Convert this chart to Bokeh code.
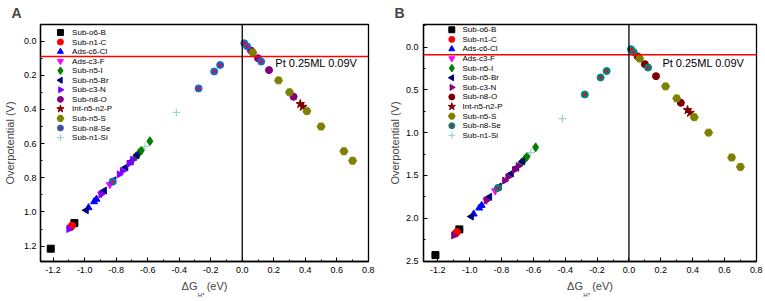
import math
from bokeh.plotting import figure
from bokeh.models import (Range1d, Span, Label, LinearAxis, FixedTicker,
                          SingleIntervalTicker, PrintfTickFormatter)
from bokeh.core.properties import value
from bokeh.layouts import row
from bokeh.embed import file_html
from bokeh.resources import INLINE

FONT = "Liberation Sans"
NB = "\u00a0"

# ---------------- data ----------------
series = ["Sub-o6-B", "Sub-n1-C", "Ads-c6-Cl", "Ads-c3-F", "Sub-n5-I", "Sub-n5-Br",
          "Sub-c3-N", "Sub-n8-O", "Int-n5-n2-P", "Sub-n5-S", "Sub-n8-Se", "Sub-n1-Si"]

dg_o6B = [-1.215, -1.065]
dg_n1C = [-1.09, -1.08]
dg_c6Cl = [-0.975, -0.94, -0.925]
dg_c3F = [-0.895, -0.84]
dg_n5I = [-0.675, -0.655, -0.64, -0.586]
dg_n5Br = [-0.99, -0.875, -0.815, -0.739, -0.705, -0.668]
dg_c3N = [-1.10, -0.896, -0.78, -0.76, -0.718, -0.695]
dg_n8O = [0.055, 0.10, 0.17, 0.326]
dg_P = [0.368, 0.384]
dg_n5S = [0.067, 0.23, 0.30, 0.41, 0.50, 0.645, 0.70]
dg_n8Se = [-0.823, -0.277, -0.178, -0.14, 0.013, 0.03, 0.12]
dg_n1Si = [-0.617, -0.418]

# panel A overpotentials (V)
etaA_o6B = [1.215, 1.065]
etaA_n1C = [1.09, 1.08]
etaA_c6Cl = [0.975, 0.94, 0.925]
etaA_c3F = [0.895, 0.84]
etaA_n5I = [0.675, 0.655, 0.64, 0.586]
etaA_n5Br = [0.99, 0.875, 0.815, 0.739, 0.705, 0.668]
etaA_c3N = [1.10, 0.896, 0.78, 0.76, 0.718, 0.695]
etaA_n8O = [0.055, 0.10, 0.17, 0.326]
etaA_P = [0.368, 0.384]
etaA_n5S = [0.067, 0.23, 0.30, 0.41, 0.50, 0.645, 0.70]
etaA_n8Se = [0.823, 0.277, 0.178, 0.14, 0.013, 0.03, 0.12]
etaA_n1Si = [0.617, 0.418]

# panel B overpotentials (V)
etaB_o6B = [2.43, 2.13]
etaB_n1C = [2.18, 2.16]
etaB_c6Cl = [1.95, 1.88, 1.85]
etaB_c3F = [1.79, 1.68]
etaB_n5I = [1.35, 1.31, 1.28, 1.172]
etaB_n5Br = [1.98, 1.75, 1.63, 1.478, 1.41, 1.336]
etaB_c3N = [2.20, 1.792, 1.56, 1.52, 1.436, 1.39]
etaB_n8O = [0.11, 0.20, 0.34, 0.652]
etaB_P = [0.736, 0.768]
etaB_n5S = [0.134, 0.46, 0.60, 0.82, 1.00, 1.29, 1.40]
etaB_n8Se = [1.646, 0.554, 0.356, 0.28, 0.026, 0.06, 0.24]
etaB_n1Si = [1.234, 0.836]

dg_all = [dg_o6B, dg_n1C, dg_c6Cl, dg_c3F, dg_n5I, dg_n5Br, dg_c3N, dg_n8O, dg_P, dg_n5S, dg_n8Se, dg_n1Si]
etaA_all = [etaA_o6B, etaA_n1C, etaA_c6Cl, etaA_c3F, etaA_n5I, etaA_n5Br, etaA_c3N, etaA_n8O, etaA_P, etaA_n5S, etaA_n8Se, etaA_n1Si]
etaB_all = [etaB_o6B, etaB_n1C, etaB_c6Cl, etaB_c3F, etaB_n5I, etaB_n5Br, etaB_c3N, etaB_n8O, etaB_P, etaB_n5S, etaB_n8Se, etaB_n1Si]

pt_level = 0.09
pt_text = "Pt 0.25ML 0.09V"

# ---------------- styles ----------------
markers = ["square", "circle", "triangle", "inverted_triangle", "diamond", "triangle",
           "triangle", "circle", "star", "hex", "circle", "cross"]
angles = [0, 0, 0, 0, 0, math.pi / 2, -math.pi / 2, 0, 0, 0, 0, 0]
sizes = [7, 7, 7, 7, 9, 7, 7, 7, 9, 8, 7, 8]
colors_A = ["#000000", "#FF0000", "#0000FF", "#FF00FF", "#008000", "#000080",
            "#8000FF", "#800080", "#800000", "#808000", "#1E64C8", "#9FD3D3"]
colors_B = ["#000000", "#FF0000", "#0000FF", "#FF00FF", "#008000", "#000080",
            "#800080", "#800000", "#800000", "#808000", "#008080", "#9FD3D3"]


def draw_marker(p, xs, ys, i, c, size_scale=1.0):
    s = sizes[i] * size_scale
    if markers[i] == "cross":
        p.scatter(x=xs, y=ys, marker="cross", size=s, line_color=c, line_width=1.2)
    elif series[i] == "Sub-n8-Se":
        p.scatter(x=xs, y=ys, marker="circle", size=s, fill_color=c, line_color=c)
        p.scatter(x=xs, y=ys, marker="circle", size=3 * size_scale, fill_color="#FF0000",
                  line_color="#FF0000", line_width=0)
    else:
        p.scatter(x=xs, y=ys, marker=markers[i], size=s, angle=angles[i],
                  fill_color=c, line_color=c)


def make_panel(letter, etas, colors, yr, ystep, xr, width, bl, br, bb,
               tick_standoff, label_standoff, leg, pt_dy):
    height = 301
    bt = 24
    frame_h = height - bt - bb
    frame_w = width - bl - br
    p = figure(width=width, height=height, output_backend="svg", toolbar_location=None,
               x_range=Range1d(*xr), y_range=Range1d(*yr),
               min_border_left=bl, min_border_right=br, min_border_top=bt, min_border_bottom=bb)
    p.grid.visible = False
    p.outline_line_color = "black"
    p.outline_line_width = 1.3
    p.outline_line_alpha = 1
    for ax, step in ((p.xaxis[0], 0.2), (p.yaxis[0], ystep)):
        ax.ticker = SingleIntervalTicker(interval=step, num_minor_ticks=2)
        ax.formatter = PrintfTickFormatter(format="%.1f")
        ax.major_tick_in = 4
        ax.major_tick_out = 0
        ax.minor_tick_in = 2
        ax.minor_tick_out = 0
        ax.axis_line_width = 1.3
        ax.major_label_text_font = FONT
        ax.major_label_text_font_size = "9px"
        ax.major_label_text_color = "black"
    p.xaxis.major_label_standoff = 5
    p.yaxis.major_label_standoff = tick_standoff
    p.yaxis.axis_label = "Overpotential (V)"
    p.yaxis.axis_label_text_font = FONT
    p.yaxis.axis_label_text_font_size = "11px"
    p.yaxis.axis_label_text_font_style = "normal"
    p.yaxis.axis_label_standoff = label_standoff

    # x axis label  "ΔG_H* (eV)"
    p.xaxis.axis_label = "ΔG" + NB * 3 + "(eV)"
    p.xaxis.axis_label_text_font = FONT
    p.xaxis.axis_label_text_font_size = "11px"
    p.xaxis.axis_label_text_font_style = "normal"
    p.xaxis.axis_label_standoff = 4
    sub = LinearAxis(ticker=FixedTicker(ticks=[]), axis_label="H*" + NB * 4,
                     axis_line_color=None, major_tick_in=0, major_tick_out=0,
                     minor_tick_in=0, minor_tick_out=0, major_label_standoff=0,
                     axis_label_standoff=-3, axis_label_text_font=FONT,
                     axis_label_text_font_size="6px", axis_label_text_font_style="normal")
    p.add_layout(sub, "below")

    # panel letter as title
    p.title.text = letter
    p.title.align = "left"
    p.title.offset = -29
    p.title.text_font = FONT
    p.title.text_font_size = "14px"
    p.title.text_font_style = "bold"
    p.title.standoff = 4
    p.title.vertical_align = "top"

    for i in range(len(series)):
        draw_marker(p, dg_all[i], etas[i], i, colors[i])

    p.add_layout(Span(location=pt_level, dimension="width", line_color="#FF0000", line_width=1.6))
    p.add_layout(Span(location=0, dimension="height", line_color="black", line_width=1.3))
    p.add_layout(Label(x=0.21, y=pt_level, y_offset=pt_dy, text=pt_text, text_baseline="top",
                       text_font=FONT, text_font_size="11px", text_color="black"))

    # hand-made legend (positions in frame pixels converted to data units)
    def px2x(px):
        return xr[0] + px * (xr[1] - xr[0]) / frame_w

    def py2y(py):
        return yr[1] + py * (yr[0] - yr[1]) / frame_h

    mx, y0, pitch, tdx = leg
    tx, ty, tt = [], [], []
    for i, name in enumerate(series):
        yy = py2y(y0 + i * pitch)
        draw_marker(p, [px2x(mx)], [yy], i, colors[i], size_scale=0.85)
        tx.append(px2x(mx + tdx))
        ty.append(yy)
        tt.append(name)
    p.text(x=tx, y=ty, text=tt, text_font=value(FONT), text_font_size=value("8px"),
           text_baseline="middle", text_align="left", text_color="black")
    return p


pA = make_panel("A", etaA_all, colors_A, (1.29, -0.097), 0.2, (-1.28, 0.801),
                383, 39, 15, 40, 4, 5, (20, 8, 9.55, 11.7), -1)
pB = make_panel("B", etaB_all, colors_B, (2.505, -0.263), 0.5, (-1.29, 0.801),
                382, 40, 9, 39, 5, 2, (28.3, 5.3, 9.64, 10.7), -2.5)

layout = row(pA, pB)
open("out.html", "w").write(file_html(layout, INLINE))
